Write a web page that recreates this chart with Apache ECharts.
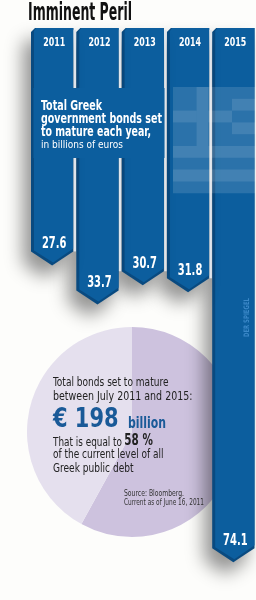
<!DOCTYPE html>
<html><head><meta charset="utf-8">
<script src="https://cdn.jsdelivr.net/npm/echarts@6/dist/echarts.min.js"></script>
<style>html,body{margin:0;padding:0;background:#fdfdfb;}#c{width:256px;height:600px;}</style>
</head><body><div id="c"></div>
<script>
// ---- data ----
const years = ['2011', '2012', '2013', '2014', '2015'];
const bondValues = [27.6, 33.7, 30.7, 31.8, 74.1];          // billions of euros maturing each year
const debtShare = [58, 42];                                 // % of current Greek public debt
const totalBonds = 198;                                     // billions, July 2011 - 2015
const titleText = 'Imminent Peril';
const panelLines = ['Total Greek', 'government bonds set', 'to mature each year,'];
const panelSub = 'in billions of euros';
const sourceLines = ['Source: Bloomberg.', 'Current as of June 16, 2011'];

// ---- style ----
const MAIN = '#0c5e9e', DARK = '#094a80';
const HEAD = -9.6;
const COND = '"Liberation Sans Narrow","DejaVu Sans Condensed","Roboto Condensed",sans-serif';
const mctx = document.createElement('canvas').getContext('2d');
function fit(text, font, w) { mctx.font = font; const m = mctx.measureText(text).width; return m > 0 ? w / m : 1; }
function txt(text, x, y, size, weight, color, w, extra) {
  const font = weight + ' ' + size + 'px ' + COND;
  return Object.assign({
    type: 'text', x: x, y: y, z: 20, silent: true, scaleX: w ? fit(text, font, w) : 1,
    style: { text: text, font: font, fill: color, align: 'left', verticalAlign: 'middle' }
  }, extra || {});
}

const chart = echarts.init(document.getElementById('c'), null, { renderer: 'canvas', width: 256, height: 600 });

function renderBar(params, api) {
  const idx = api.value(0), v = api.value(1);
  const tip = api.coord([idx, v]), top = api.coord([idx, HEAD]);
  const w = api.size([1, 0])[0] - 3;
  const cx = tip[0], L = cx - w / 2, R = cx + w / 2, ty = top[1], by = tip[1], d = 14, f = 3;
  const yf = 'bold 12px ' + COND, vf = 'bold 15px ' + COND;
  const yt = years[idx], vt = String(bondValues[idx]);
  return {
    type: 'group', children: [
      { type: 'polygon', shape: { points: [[L, ty + 4], [L + 4, ty], [R, ty], [R, by - d], [cx, by], [L, by - d]] },
        style: { fill: DARK, shadowBlur: 18, shadowColor: 'rgba(0,0,0,0.42)', shadowOffsetX: -8, shadowOffsetY: 12 } },
      { type: 'polygon', shape: { points: [[L + f, ty + 3], [L + f + 2, ty], [R, ty], [R, by - d - f], [cx + 1, by - f], [L + f, by - d - f + 2]] },
        style: { fill: MAIN } },
      { type: 'text', x: cx + 2, y: ty + 14.5, scaleX: fit(yt, yf, 22),
        style: { text: yt, font: yf, fill: '#ffffff', align: 'center', verticalAlign: 'middle' } },
      { type: 'text', x: cx + 2, y: by - 21, scaleX: fit(vt, vf, 24.5),
        style: { text: vt, font: vf, fill: '#ffffff', align: 'center', verticalAlign: 'middle' } }
    ]
  };
}

function renderGap(params, api) {
  const idx = api.value(0);
  if (idx === 0) return null;
  const a = api.coord([idx, api.value(1)]), b = api.coord([idx - 1, bondValues[idx - 1]]), top = api.coord([idx, HEAD]);
  const w = api.size([1, 0])[0] - 3;
  const x = a[0] - w / 2 - 1.5;
  const bottom = Math.min(a[1], b[1]) - 14;
  return { type: 'line', shape: { x1: x, y1: top[1] + 2, x2: x, y2: bottom },
    style: { stroke: '#dfe5ec', lineWidth: 2.4 } };
}

const barData = years.map((_, i) => [i, bondValues[i]]).reverse();

// Greek flag overlay (decor) over the 2014/2015 header
const fx = 173, fy = 87, fw = 83, s = 11.8;
const flag = [
  { x: fx, y: fy, w: fw, h: s * 9, a: 0.13 },
  { x: fx + 2 * s, y: fy, w: s, h: 5 * s, a: 0.11 },
  { x: fx, y: fy + 2 * s, w: 2 * s, h: s, a: 0.11 },
  { x: fx + 3 * s, y: fy + 2 * s, w: 2 * s, h: s, a: 0.11 },
  { x: fx + 5 * s, y: fy + s, w: fw - 5 * s, h: s, a: 0.11 },
  { x: fx + 5 * s, y: fy + 3 * s, w: fw - 5 * s, h: s, a: 0.11 },
  { x: fx, y: fy + 5 * s, w: fw, h: s, a: 0.11 },
  { x: fx, y: fy + 7 * s, w: fw, h: s, a: 0.11 }
].map(r => ({ type: 'rect', z: 12, silent: true, shape: { x: r.x, y: r.y, width: r.w, height: r.h },
  style: { fill: 'rgba(255,255,255,' + r.a + ')' } }));

const spFont = 'bold 7.5px ' + COND;
const graphics = [
  txt(titleText, 28, 14, 24, 'bold', '#111111', 104),
  { type: 'rect', z: 10, silent: true, shape: { x: 33.5, y: 88, width: 131, height: 70 }, style: { fill: MAIN } },
  ...flag,
  txt(panelLines[0], 41, 106, 13.5, 'bold', '#ffffff', 61),
  txt(panelLines[1], 41, 119.5, 13.5, 'bold', '#ffffff', 121),
  txt(panelLines[2], 41, 132.5, 13.5, 'bold', '#ffffff', 110),
  txt(panelSub, 41, 145.5, 11, 'normal', '#ffffff', 82),
  { type: 'text', x: 247, y: 317.5, z: 20, silent: true, rotation: Math.PI / 2, scaleX: fit('DER SPIEGEL', spFont, 39),
    style: { text: 'DER SPIEGEL', font: spFont, fill: '#3b88c8', align: 'center', verticalAlign: 'middle' } },
  txt('Total bonds set to mature', 53, 383.5, 11.5, 'normal', '#222222', 115.5),
  txt('between July 2011 and 2015:', 53, 397, 11.5, 'normal', '#222222', 139.5),
  txt('€ ' + totalBonds, 53, 420.5, 26, 'bold', '#1a5a98', 65.5),
  txt('billion', 128, 424, 15, 'bold', '#1a5a98', 38),
  txt('That is equal to', 53, 443, 11.5, 'normal', '#222222', 69),
  txt(debtShare[0] + ' %', 124.3, 441.5, 15, 'bold', '#222222', 28.5),
  txt('of the current level of all', 53, 455.5, 11.5, 'normal', '#222222', 110.5),
  txt('Greek public debt', 53, 469, 11.5, 'normal', '#222222', 80.5),
  txt(sourceLines[0], 124, 493.5, 9, 'normal', '#333333', 60),
  txt(sourceLines[1], 124, 502.5, 9, 'normal', '#333333', 80)
];

chart.setOption({
  animation: false,
  backgroundColor: '#fdfdfb',
  grid: { left: 29.5, top: 25.4, width: 227, height: 590.4 },
  xAxis: { type: 'category', data: years, show: false },
  yAxis: { type: 'value', inverse: true, min: -10, max: 80, show: false },
  graphic: { elements: graphics },
  series: [
    { type: 'pie', z: 1, silent: true, center: [132, 432], radius: 105, startAngle: 90, clockwise: true,
      label: { show: false }, labelLine: { show: false }, emphasis: { disabled: true },
      data: [
        { value: debtShare[0], name: 'Bonds maturing 2011-2015', itemStyle: { color: '#cdc2de' } },
        { value: debtShare[1], name: 'Rest of public debt', itemStyle: { color: '#e5e0ee' } }
      ] },
    { type: 'custom', z: 2, silent: true, renderItem: renderBar, encode: { x: 0, y: 1 }, data: barData },
    { type: 'custom', z: 3, silent: true, renderItem: renderGap, encode: { x: 0, y: 1 }, data: barData }
  ]
});
</script>
</body></html>
